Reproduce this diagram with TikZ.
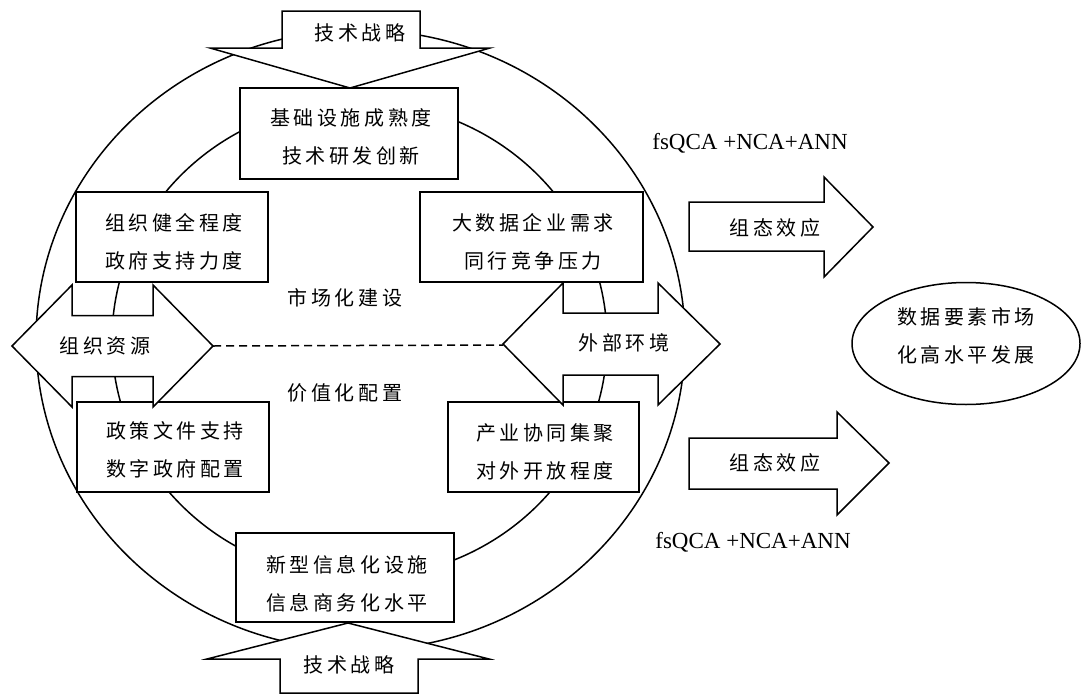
\documentclass[tikz,border=0pt]{standalone}
\usepackage{fontspec}
\setmainfont{Liberation Serif}
\newfontfamily\cjk[LetterSpace=18]{Noto Sans CJK SC}
\usetikzlibrary{shapes.geometric}
\newcommand\cjkbox{\cjk\fontsize{20}{38}\selectfont}
\begin{document}
\begin{tikzpicture}[x=1pt,y=-1pt,line width=1.5pt,
  box/.style={draw,fill=white,inner sep=0pt},
  blk/.style={draw,fill=white,line join=miter},
  lbl/.style={font=\cjkbox,inner sep=0pt,align=center},
  latin/.style={font=\fontsize{23}{23}\selectfont,inner sep=0pt}]
\useasboundingbox (0,0) rectangle (1086,696);
% rings
\draw (360.5,340) ellipse [x radius=324.5, y radius=310];
\draw (359.5,340) ellipse [x radius=247.5, y radius=238];
% dashed link
\coordinate (dl) at (213,346);
\coordinate (dr) at (503,345);
\draw[dash pattern=on 8pt off 5pt] (dl) -- (dr);
% boxes
\node[box,minimum width=218pt,minimum height=91pt] (b1) at (349,133.5) {};
\node[box,minimum width=192pt,minimum height=90pt] (b2) at (172,237) {};
\node[box,minimum width=223pt,minimum height=90pt] (b3) at (531.5,237) {};
\node[box,minimum width=192pt,minimum height=90pt] (b4) at (173,447) {};
\node[box,minimum width=191pt,minimum height=90pt] (b5) at (543.5,447) {};
\node[box,minimum width=218pt,minimum height=89pt] (b6) at (345,577.5) {};
\node[lbl] (t1) at (351,137) {基础设施成熟度\\技术研发创新};
\node[lbl] (t2) at (174,242) {组织健全程度\\政府支持力度};
\node[lbl] (t3) at (533,242) {大数据企业需求\\同行竞争压力};
\node[lbl] (t4) at (175,450) {政策文件支持\\数字政府配置};
\node[lbl] (t5) at (545,452) {产业协同集聚\\对外开放程度};
\node[lbl] (t6) at (347,583.5) {新型信息化设施\\信息商务化水平};
% block arrows
\draw[blk] (282,11) -- (420,11) -- (420,48) -- (490,48) -- (350,88) -- (210,48) -- (282,48) -- cycle;
\draw[blk] (348,623) -- (489,659) -- (418,659) -- (418,693) -- (280,693) -- (280,659) -- (207,659) -- cycle;
\draw[blk] (12,346) -- (72,285) -- (72,315.5) -- (153,315.5) -- (153,285) -- (213,346) -- (153,407) -- (153,376.5) -- (72,376.5) -- (72,407) -- cycle;
\draw[blk] (503,344) -- (563,283) -- (563,313) -- (658,313) -- (658,283) -- (720,344) -- (658,405) -- (658,375) -- (563,375) -- (563,405) -- cycle;
\draw[blk] (689,202) -- (824,202) -- (824,177) -- (873,227) -- (824,277) -- (824,251) -- (689,251) -- cycle;
\draw[blk] (689,438) -- (837,438) -- (837,412) -- (889,463) -- (837,515) -- (837,489) -- (689,489) -- cycle;
\node[lbl] (a1) at (360,33) {技术战略};
\node[lbl] (a2) at (349,665) {技术战略};
\node[lbl] (a3) at (105,346) {组织资源};
\node[lbl] (a4) at (624,343) {外部环境};
\node[lbl] (a5) at (775,228) {组态效应};
\node[lbl] (a6) at (775,463) {组态效应};
% goal
\node[draw,ellipse,inner sep=0pt,minimum width=228pt,minimum height=122pt] (goal) at (966,343.5) {};
\node[lbl] (g) at (966,336) {数据要素市场\\化高水平发展};
% labels
\node[lbl] (m1) at (345,298) {市场化建设};
\node[lbl] (m2) at (345,393) {价值化配置};
\node[latin] (f1) at (750,143) {fsQCA +NCA+ANN};
\node[latin] (f2) at (753,542) {fsQCA +NCA+ANN};
\end{tikzpicture}
\end{document}
